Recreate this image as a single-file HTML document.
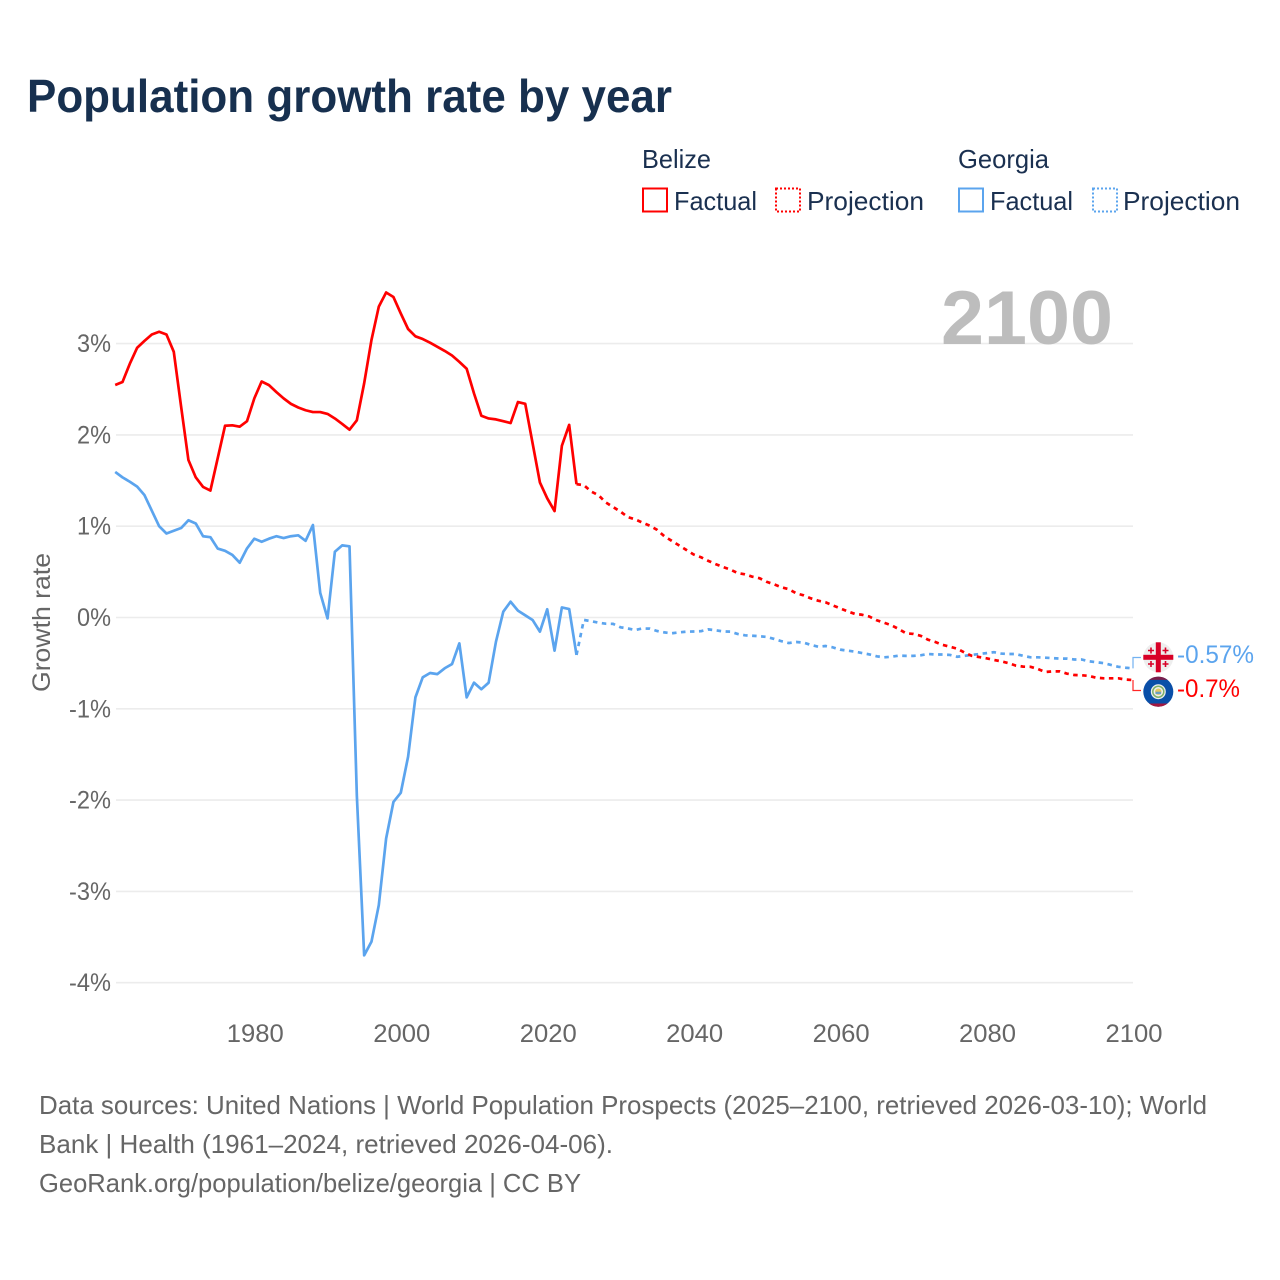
<!DOCTYPE html>
<html lang="en">
<head>
<meta charset="utf-8">
<title>Population growth rate by year</title>
<style>
html,body{margin:0;padding:0;background:#fff;width:1280px;height:1280px;overflow:hidden}
svg{display:block;font-family:"Liberation Sans",sans-serif}
</style>
</head>
<body>
<svg id="chart" xmlns="http://www.w3.org/2000/svg" width="1280" height="1280" viewBox="0 0 1280 1280">
  <rect x="0" y="0" width="1280" height="1280" fill="#fff"/>
  <text x="27" y="112" font-size="46" font-weight="700" fill="#17304f" textLength="645" lengthAdjust="spacingAndGlyphs">Population growth rate by year</text>

  <g font-size="26" fill="#1a3050">
    <text x="642" y="168" textLength="69" lengthAdjust="spacingAndGlyphs">Belize</text>
    <text x="958" y="168" textLength="91" lengthAdjust="spacingAndGlyphs">Georgia</text>
    <rect x="643" y="188.500" width="24" height="23" fill="none" stroke="#ff0000" stroke-width="2"/>
    <text x="674" y="210" textLength="83" lengthAdjust="spacingAndGlyphs">Factual</text>
    <rect x="776" y="188.500" width="24" height="23" fill="none" stroke="#ff0000" stroke-width="2" stroke-dasharray="2 2"/>
    <text x="807" y="210" textLength="117" lengthAdjust="spacingAndGlyphs">Projection</text>
    <rect x="959" y="188.500" width="24" height="23" fill="none" stroke="#5ba4ee" stroke-width="2"/>
    <text x="990" y="210" textLength="83" lengthAdjust="spacingAndGlyphs">Factual</text>
    <rect x="1093" y="188.500" width="24" height="23" fill="none" stroke="#5ba4ee" stroke-width="2" stroke-dasharray="2 2"/>
    <text x="1123" y="210" textLength="117" lengthAdjust="spacingAndGlyphs">Projection</text>
  </g>

  <g id="grid"></g>
  <g id="y-ticks" font-size="25" fill="#666"></g>
  <g id="x-ticks" font-size="25" fill="#666"></g>
  <text transform="translate(50,692) rotate(-90)" font-size="25" fill="#666" textLength="139" lengthAdjust="spacingAndGlyphs">Growth rate</text>

  <text x="941" y="344" font-size="76" font-weight="700" fill="#bdbdbd" textLength="172" lengthAdjust="spacingAndGlyphs">2100</text>

  <g id="series"></g>

  <g>
    <circle cx="1158.300" cy="657.300" r="15" fill="#eeeeee"/>
    <rect x="1155.800" y="642.300" width="5" height="30" fill="#d80027"/>
    <rect x="1143.300" y="654.800" width="30" height="5" fill="#d80027"/>
    <path d="M1151 647.500v6M1148 650.500h6M1165.500 647.500v6M1162.500 650.500h6M1151 661v6M1148 664h6M1165.500 661v6M1162.500 664h6" stroke="#d80027" stroke-width="1.600" fill="none"/>
  </g>
  <g>
    <circle cx="1158.300" cy="691.700" r="15" fill="#0a4fa8"/>
    <path d="M1149 703.500h18.600a15 15 0 0 1-18.600 0z" fill="#a3173f"/>
    <path d="M1149 679.900h18.600a15 15 0 0 0-18.600 0z" fill="#7a1f4a"/>
    <circle cx="1158.300" cy="691.700" r="7.500" fill="#eeeeee"/>
    <circle cx="1158.300" cy="691.700" r="5.500" fill="none" stroke="#7fb069" stroke-width="1.500"/>
    <circle cx="1158.300" cy="691.700" r="3.200" fill="#e8c860"/>
    <rect x="1155.500" y="691.700" width="5.600" height="2.400" fill="#6a9fc0"/>
  </g>
  <text x="1177" y="663" font-size="25" fill="#5ba4ee" textLength="77" lengthAdjust="spacingAndGlyphs">-0.57%</text>
  <text x="1177" y="697" font-size="25" fill="#ff0000" textLength="63" lengthAdjust="spacingAndGlyphs">-0.7%</text>

  <g font-size="26" fill="#666">
    <text x="39" y="1114" textLength="1168" lengthAdjust="spacingAndGlyphs">Data sources: United Nations | World Population Prospects (2025–2100, retrieved 2026-03-10); World</text>
    <text x="39" y="1153" textLength="574" lengthAdjust="spacingAndGlyphs">Bank | Health (1961–2024, retrieved 2026-04-06).</text>
    <text x="39" y="1192" textLength="542" lengthAdjust="spacingAndGlyphs">GeoRank.org/population/belize/georgia | CC BY</text>
  </g>
</svg>
<script>
const yTickValues = [3, 2, 1, 0, -1, -2, -3, -4];
const yTickLabels = ["3%", "2%", "1%", "0%", "-1%", "-2%", "-3%", "-4%"];
const xTickValues = [1980, 2000, 2020, 2040, 2060, 2080, 2100];
const xTickLabels = ["1980", "2000", "2020", "2040", "2060", "2080", "2100"];
const factualStartYear = 1961;
const projectionStartYear = 2024;

const belizeFactual = [2.547, 2.58, 2.78, 2.955, 3.03, 3.10, 3.13, 3.10, 2.91, 2.31,
  1.725, 1.535, 1.43, 1.39, 1.745, 2.10, 2.105, 2.09, 2.15, 2.40,
  2.585, 2.545, 2.47, 2.40, 2.34, 2.30, 2.27, 2.25, 2.25, 2.23,
  2.18, 2.12, 2.057, 2.16, 2.565, 3.04, 3.405, 3.56, 3.51, 3.33,
  3.16, 3.08, 3.05, 3.01, 2.965, 2.92, 2.87, 2.80, 2.725, 2.455,
  2.21, 2.18, 2.17, 2.15, 2.13, 2.36, 2.34, 1.91, 1.48, 1.305,
  1.166, 1.88, 2.11, 1.46];

const belizeProjection = [1.46, 1.45, 1.38, 1.34, 1.26, 1.21, 1.16, 1.10, 1.075, 1.04, 1.005,
  0.96, 0.89, 0.84, 0.79, 0.74, 0.69, 0.66, 0.62, 0.585, 0.553,
  0.525, 0.487, 0.473, 0.447, 0.43, 0.39, 0.363, 0.33, 0.31, 0.265,
  0.243, 0.21, 0.184, 0.167, 0.133, 0.10, 0.068, 0.04, 0.03, 0.01,
  -0.03, -0.057, -0.085, -0.126, -0.173, -0.18, -0.20, -0.243, -0.268, -0.30,
  -0.32, -0.342, -0.385, -0.42, -0.433, -0.447, -0.465, -0.48, -0.50, -0.527,
  -0.538, -0.54, -0.564, -0.597, -0.59, -0.59, -0.615, -0.63, -0.633, -0.64,
  -0.66, -0.666, -0.666, -0.666, -0.68, -0.685];

const georgiaFactual = [1.594, 1.535, 1.487, 1.433, 1.34, 1.17, 1.00, 0.92, 0.95, 0.98,
  1.065, 1.03, 0.89, 0.88, 0.755, 0.73, 0.685, 0.60, 0.757, 0.863,
  0.83, 0.863, 0.89, 0.87, 0.89, 0.90, 0.84, 1.013, 0.27, -0.01,
  0.72, 0.79, 0.78, -1.95, -3.70, -3.55, -3.15, -2.42, -2.02, -1.92,
  -1.525, -0.875, -0.655, -0.608, -0.62, -0.556, -0.51, -0.283, -0.875, -0.714,
  -0.786, -0.714, -0.265, 0.064, 0.173, 0.075, 0.024, -0.027, -0.155, 0.09,
  -0.363, 0.11, 0.093, -0.41];

const georgiaProjection = [-0.41, -0.027, -0.04, -0.057, -0.068, -0.07, -0.107, -0.12, -0.137, -0.12, -0.122,
  -0.148, -0.163, -0.173, -0.163, -0.155, -0.153, -0.15, -0.13, -0.14, -0.152,
  -0.155, -0.18, -0.195, -0.2, -0.205, -0.213, -0.235, -0.26, -0.28, -0.268,
  -0.275, -0.30, -0.32, -0.312, -0.327, -0.352, -0.363, -0.374, -0.389, -0.404,
  -0.425, -0.436, -0.43, -0.418, -0.42, -0.42, -0.414, -0.40, -0.405, -0.405,
  -0.41, -0.43, -0.42, -0.41, -0.40, -0.39, -0.38, -0.395, -0.40, -0.40,
  -0.42, -0.436, -0.436, -0.44, -0.445, -0.45, -0.45, -0.46, -0.46, -0.48,
  -0.49, -0.50, -0.52, -0.54, -0.55, -0.557];

const SVGNS = "http://www.w3.org/2000/svg";
const RED = "#ff0000";
const BLUE = "#5ba4ee";
const GRID_LEFT = 116;
const GRID_RIGHT = 1133;
const PLOT_LEFT = 115.2;

function xScale(year) {
  return PLOT_LEFT + (year - 1961) * (GRID_RIGHT - PLOT_LEFT) / (2100 - 1961);
}
function yScale(value) {
  return 617.5 - value * 91.3;
}
function pointsFor(values, startYear) {
  return values.map(function (v, i) {
    return xScale(startYear + i).toFixed(2) + "," + yScale(v).toFixed(2);
  }).join(" ");
}
function make(tag, parentId, attrs, text) {
  const el = document.createElementNS(SVGNS, tag);
  Object.keys(attrs).forEach(function (k) { el.setAttribute(k, attrs[k]); });
  if (text !== undefined) el.textContent = text;
  document.getElementById(parentId).appendChild(el);
  return el;
}

yTickValues.forEach(function (v, i) {
  const line = make("line", "grid", {
    x1: GRID_LEFT, x2: GRID_RIGHT, y1: yScale(v), y2: yScale(v),
    stroke: "#ececec", "stroke-width": 1.6
  });
  
  
  const label = make("text", "y-ticks", {
    x: 111, y: yScale(v) + 8.5, "text-anchor": "end",
    textLength: yTickLabels[i].length === 2 ? 34 : 42, lengthAdjust: "spacingAndGlyphs"
  }, yTickLabels[i]);
  
  
});

xTickValues.forEach(function (v, i) {
  const label = make("text", "x-ticks", {
    x: xScale(v) + 1, y: 1042, "text-anchor": "middle",
    textLength: 57, lengthAdjust: "spacingAndGlyphs"
  }, xTickLabels[i]);
  
  
});

function drawSeries(values, startYear, color, dashed) {
  const attrs = {
    points: pointsFor(values, startYear), fill: "none", stroke: color,
    "stroke-width": 2.7, "stroke-linejoin": "round"
  };
  if (dashed) attrs["stroke-dasharray"] = "4.5 4.5";
  return make("polyline", "series", attrs);
}

const georgiaFactualLine = drawSeries(georgiaFactual, factualStartYear, BLUE, false);



const georgiaProjectionLine = drawSeries(georgiaProjection, projectionStartYear, BLUE, true);



const belizeFactualLine = drawSeries(belizeFactual, factualStartYear, RED, false);



const belizeProjectionLine = drawSeries(belizeProjection, projectionStartYear, RED, true);



function drawConnector(lastValue, flagY, color) {
  const x = xScale(2100);
  return make("polyline", "series", {
    points: x + "," + yScale(lastValue) + " " + x + "," + flagY + " 1141," + flagY,
    fill: "none", stroke: color, "stroke-width": 1.2, opacity: 0.85
  });
}

const georgiaConnector = drawConnector(georgiaProjection[georgiaProjection.length - 1], 657.5, BLUE);



const belizeConnector = drawConnector(belizeProjection[belizeProjection.length - 1], 690.5, RED);


</script>
</body>
</html>
